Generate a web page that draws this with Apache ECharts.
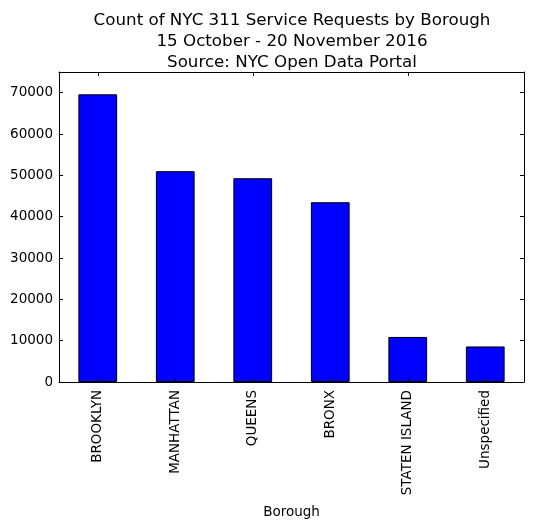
<!DOCTYPE html>
<html>
<head>
<meta charset="utf-8">
<script src="https://cdn.jsdelivr.net/npm/echarts@6/dist/echarts.min.js"></script>
<style>
  html, body { margin: 0; padding: 0; background: #fff; }
  #main { width: 534px; height: 528px; }
</style>
</head>
<body>
<div id="main"></div>
<script>
// values
const boroughs = ['BROOKLYN', 'MANHATTAN', 'QUEENS', 'BRONX', 'STATEN ISLAND', 'Unspecified'];
const requestCounts = [69600, 51000, 49300, 43500, 10900, 8600];
const yTicks = [0, 10000, 20000, 30000, 40000, 50000, 60000, 70000];

const font = 'DejaVu Sans';
const chart = echarts.init(document.getElementById('main'), null, { renderer: 'canvas' });

const inTick = { show: true, inside: true, length: 4, lineStyle: { color: '#000', width: 1 } };
const frame = { show: true, onZero: false, lineStyle: { color: '#000', width: 1 } };

chart.setOption({
  animation: false,
  backgroundColor: '#fff',
  title: {
    text: 'Count of NYC 311 Service Requests by Borough\n15 October - 20 November 2016\nSource: NYC Open Data Portal',
    left: 287, top: 5,
    textAlign: 'center',
    textStyle: { fontFamily: font, fontSize: 16.7, fontWeight: 'normal', color: '#000', lineHeight: 21 }
  },
  grid: { left: 59, right: 10, top: 72, bottom: 146 },
  xAxis: [
    {
      type: 'category',
      data: boroughs,
      position: 'bottom',
      z: 5,
      name: 'Borough',
      nameLocation: 'middle',
      nameGap: 123,
      nameTextStyle: { fontFamily: font, fontSize: 13.5, color: '#000' },
      axisLine: frame,
      axisTick: Object.assign({ alignWithLabel: true }, inTick),
      axisLabel: { rotate: 90, fontFamily: font, fontSize: 13.5, color: '#000', margin: 8 },
      splitLine: { show: false }
    },
    {
      type: 'category',
      data: boroughs,
      position: 'top',
      z: 5,
      axisLine: frame,
      axisTick: Object.assign({ alignWithLabel: true }, inTick),
      axisLabel: { show: false },
      splitLine: { show: false }
    }
  ],
  yAxis: [
    {
      type: 'value',
      min: 0, max: 75000, interval: 10000,
      position: 'left',
      z: 5,
      axisLine: frame,
      axisTick: inTick,
      axisLabel: {
        fontFamily: font, fontSize: 13.5, color: '#000', margin: 6,
        formatter: v => (yTicks.includes(v) ? String(v) : '')
      },
      splitLine: { show: false }
    },
    {
      type: 'value',
      min: 0, max: 75000, interval: 10000,
      position: 'right',
      z: 5,
      axisLine: frame,
      axisTick: inTick,
      axisLabel: { show: false },
      splitLine: { show: false }
    }
  ],
  series: [
    {
      type: 'bar',
      data: requestCounts,
      xAxisIndex: 0,
      yAxisIndex: 0,
      barWidth: '50%',
      itemStyle: { color: '#0000ff', borderColor: '#000', borderWidth: 1 }
    }
  ]
});
</script>
</body>
</html>
